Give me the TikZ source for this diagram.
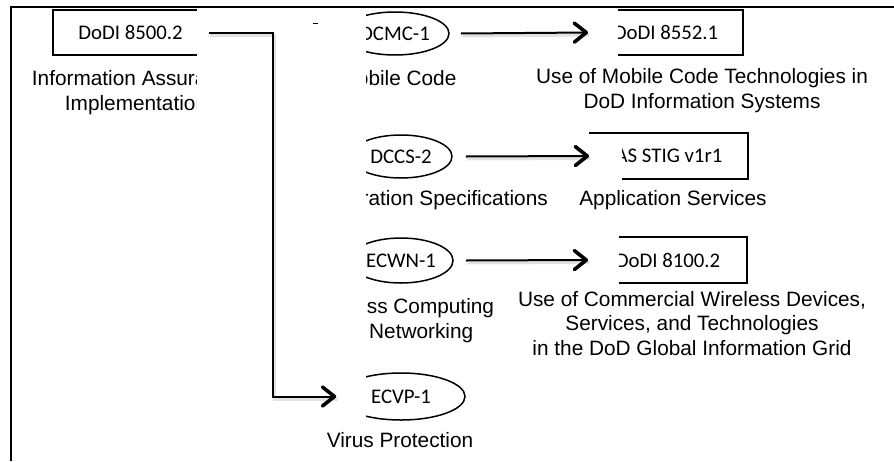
\documentclass[tikz,border=0pt]{standalone}
\usepackage{fontspec}
\setmainfont{Liberation Sans}
\newfontfamily\calibrifont{Carlito}
\usetikzlibrary{arrows.meta,shapes.geometric}

\begin{document}
\begin{tikzpicture}[x=1pt,y=-1pt,
  desc/.style={font=\fontsize{20.8}{24.5}\selectfont, align=center, inner sep=0pt},
  docbox/.style={draw, line width=1.8pt, minimum height=45pt, inner sep=0pt,
    font=\calibrifont\fontsize{20.8}{24}\selectfont},
  ctl/.style={draw, ellipse, line width=1.5pt, minimum width=104pt, minimum height=43pt,
    inner sep=0pt, font=\calibrifont\fontsize{20.8}{24}\selectfont},
  link/.style={line width=2pt,
    -{Straight Barb[length=12pt,width=19pt,line width=3.6pt,round]}},
  linkshadow/.style={line width=3pt, draw=black!25, opacity=0.45,
    transform canvas={shift={(1.5,2.5)}}},
  mask/.style={fill=white, draw=none}
]
\useasboundingbox (0,0) rectangle (894,461);

% document boxes
\node[docbox, minimum width=155pt] (d85002) at (130.5,32.5) {DoDI 8500.2};
\node[docbox, minimum width=154pt] (d85521) at (666,32.5) {DoDI 8552.1};
\node[docbox, minimum width=158pt, minimum height=46pt] (asstig) at (669,156) {AS STIG v1r1};
\node[docbox, minimum width=158pt, minimum height=46pt] (d81002) at (668,260) {DoDI 8100.2};

% IA controls
\node[ctl, minimum width=108pt] (dcmc) at (395,33.5) {DCMC-1};
\node[ctl, minimum width=102pt] (dccs) at (401,156.5) {DCCS-2};
\node[ctl, minimum height=45pt] (ecwn) at (401,260.5) {ECWN-1};
\node[ctl, minimum width=128pt, minimum height=47pt] (ecvp) at (401,396.5) {ECVP-1};

% captions
\node[desc] (tia) at (136,92.5) {Information Assurance\\Implementation};
\node[desc] (tmc) at (398,78) {Mobile Code};
\node[desc] (tmct) at (702,90.5) {Use of Mobile Code Technologies in\\DoD Information Systems};
\node[desc, anchor=east] (tcs) at (548,200) {Configuration Specifications};
\node[desc] (tas) at (673,200) {Application Services};
\node[desc] (twcn) at (401,320.5) {Wireless Computing\\and Networking};
\node[desc] (tcwd) at (692,323.5) {Use of Commercial Wireless Devices,\\Services, and Technologies\\in the DoD Global Information Grid};
\node[desc] (tvp) at (400,440) {Virus Protection};

% white cover patches
\fill[mask] (197,8.5) rectangle (365.5,425);
\fill[mask] (587,8.5) rectangle (618,57);
\fill[mask] (587,133.6) rectangle (622,181);
\fill[mask] (587,235) rectangle (619,285);

% connector shadows
\draw[linkshadow] (d85002.east) -- ++(64,0) |- (ecvp.west);
\draw[linkshadow] ([xshift=11pt]dcmc.east) -- (d85521.west);
\draw[linkshadow] ([xshift=13pt]dccs.east) -- (asstig.west);
\draw[linkshadow] ([xshift=12pt]ecwn.east) -- (d81002.west);

% connectors
\draw[link] (d85002.east) -- ++(64,0) |- (ecvp.west);
\draw[link] ([xshift=11pt]dcmc.east) -- (d85521.west);
\draw[link] ([xshift=13pt]dccs.east) -- (asstig.west);
\draw[link] ([xshift=12pt]ecwn.east) -- (d81002.west);

% small tick
\draw[line width=1pt] (313,23) -- (318,23);

% frame
\draw[line width=2.5pt] (11,461) -- (11,7) -- (894,7);
\end{tikzpicture}
\end{document}
